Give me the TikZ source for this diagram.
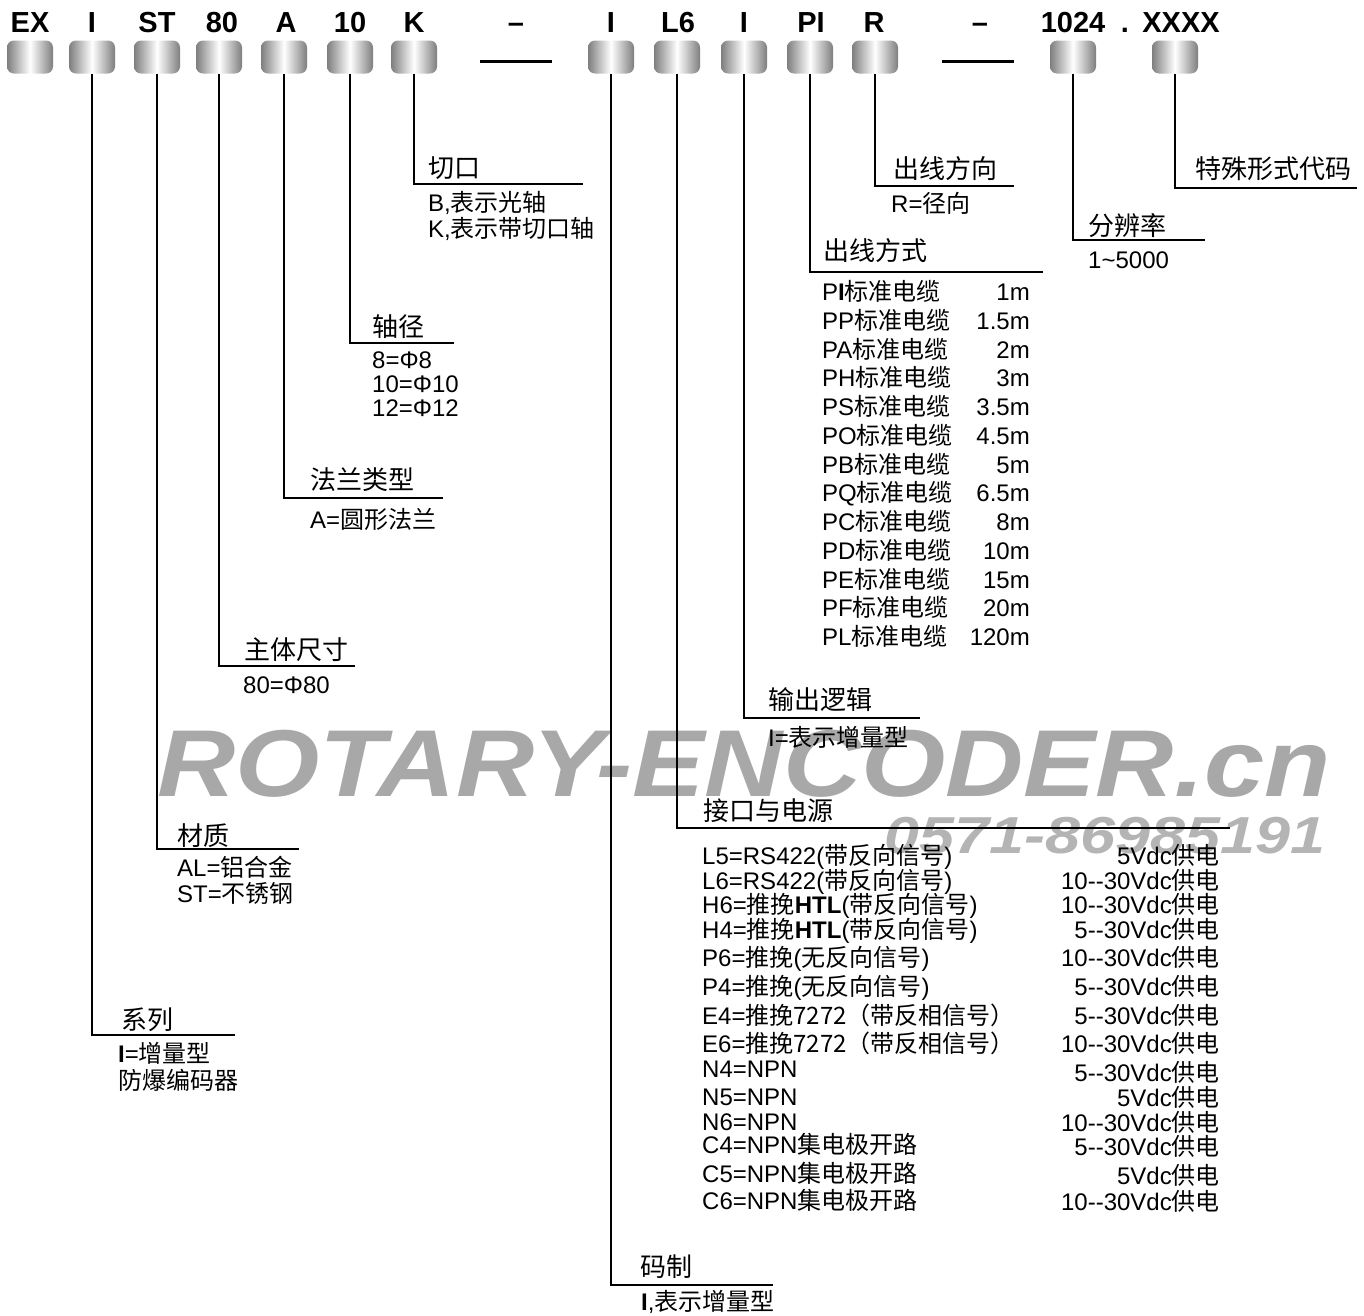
\documentclass[tikz,border=0pt]{standalone}
\usepackage{fontspec}
\usepackage{graphicx}
\setmainfont{Liberation Sans}
\newfontfamily\cjkfont{Noto Sans CJK SC}
\newcommand{\zh}[1]{{\cjkfont #1}}
\definecolor{cellgray}{HTML}{7E7E7E}
\definecolor{markgray}{HTML}{A8A8A8}
\definecolor{telgray}{HTML}{B4B4B4}

\begin{document}
\begin{tikzpicture}[
  x=1pt, y=-1pt,
  cell/.style={rounded corners=7pt, minimum width=46pt, minimum height=33pt, inner sep=0pt, left color=cellgray, right color=cellgray, middle color=white},
  code/.style={inner sep=0pt, text height=20.9pt, text depth=0pt, font=\bfseries\fontsize{29}{29}\selectfont},
  bar/.style={fill=black, inner sep=0pt, minimum width=72pt, minimum height=3pt},
  head/.style={anchor=west, inner sep=0pt, text height=19.5pt, text depth=0pt, font=\cjkfont\fontsize{26}{26}\selectfont},
  body/.style={anchor=west, inner sep=0pt, text height=18pt, text depth=0pt, font=\fontsize{24}{24}\selectfont},
  val/.style={body, anchor=east},
  lead/.style={line width=1.6pt}
]
\useasboundingbox (0,0) rectangle (1364,1315);

% watermark
\node[inner sep=0pt, text=markgray, font=\bfseries\itshape\fontsize{95}{95}\selectfont] (wmSite) at (744,764) {\scalebox{1.14}[1]{ROTARY-ENCODER.cn}};
\node[inner sep=0pt, text=telgray, font=\bfseries\itshape\fontsize{52}{52}\selectfont] (wmTel) at (1105,836) {\scalebox{1.21}[1]{0571-86985191}};

% code letters
\node[code] (tEX) at (30,22) {EX};
\node[code] (tI) at (92,22) {I};
\node[code] (tST) at (157,22) {ST};
\node[code] (t80) at (222,22) {80};
\node[code] (tA) at (286,22) {A};
\node[code] (t10) at (350,22) {10};
\node[code] (tK) at (414,22) {K};
\node[code] (tDashA) at (516,22) {–};
\node[code] (tIb) at (611,22) {I};
\node[code] (tL6) at (678,22) {L6};
\node[code] (tIc) at (744,22) {I};
\node[code] (tPI) at (811,22) {PI};
\node[code] (tR) at (874,22) {R};
\node[code] (tDashB) at (980,22) {–};
\node[code] (t1024) at (1073,22) {1024};
\node[code] (tDot) at (1125,22) {.};
\node[code] (tX) at (1181,22) {XXXX};

% code cells
\node[cell] (cEX) at (30,57) {};
\node[cell] (cI) at (92,57) {};
\node[cell] (cST) at (157,57) {};
\node[cell] (c80) at (219,57) {};
\node[cell] (cA) at (284,57) {};
\node[cell] (c10) at (350,57) {};
\node[cell] (cK) at (414,57) {};
\node[bar] (barA) at (516,61) {};
\node[cell] (cIb) at (611,57) {};
\node[cell] (cL6) at (677,57) {};
\node[cell] (cIc) at (744,57) {};
\node[cell] (cPI) at (810,57) {};
\node[cell] (cR) at (875,57) {};
\node[bar] (barB) at (978,61) {};
\node[cell] (c1024) at (1073,57) {};
\node[cell] (cX) at (1175,57) {};

% ends of the leader lines
\coordinate (eSeries) at (235,1035);
\coordinate (eMat) at (299,849);
\coordinate (eSize) at (355,666);
\coordinate (eFlange) at (443,498);
\coordinate (eShaft) at (454,343);
\coordinate (eCut) at (583,184);
\coordinate (eCode) at (773,1285);
\coordinate (ePort) at (1230,828);
\coordinate (eLogic) at (920,718);
\coordinate (eCable) at (1043,272);
\coordinate (eDir) at (1014,186);
\coordinate (eRes) at (1205,240);
\coordinate (eSpec) at (1357,188);

\draw[lead] (cI.south) |- (eSeries);
\draw[lead] (cST.south) |- (eMat);
\draw[lead] (c80.south) |- (eSize);
\draw[lead] (cA.south) |- (eFlange);
\draw[lead] (c10.south) |- (eShaft);
\draw[lead] (cK.south) |- (eCut);
\draw[lead] (cIb.south) |- (eCode);
\draw[lead] (cL6.south) |- (ePort);
\draw[lead] (cIc.south) |- (eLogic);
\draw[lead] (cPI.south) |- (eCable);
\draw[lead] (cR.south) |- (eDir);
\draw[lead] (c1024.south) |- (eRes);
\draw[lead] (cX.south) |- (eSpec);

% series
\node[head] (hSeries) at (121,1020) {系列};
\node[body] (bSeriesA) at (118,1053) {\textbf{I}=\zh{增量型}};
\node[body] (bSeriesB) at (118,1080) {\zh{防爆编码器}};
% material
\node[head] (hMat) at (177,836) {材质};
\node[body] (bMatA) at (177,867) {AL=\zh{铝合金}};
\node[body] (bMatB) at (177,893) {ST=\zh{不锈钢}};
% body size
\node[head] (hSize) at (244,650) {主体尺寸};
\node[body] (bSize) at (243,684) {80=Φ80};
% flange
\node[head] (hFlange) at (310,480) {法兰类型};
\node[body] (bFlange) at (310,519) {A=\zh{圆形法兰}};
% shaft
\node[head] (hShaft) at (372,327) {轴径};
\node[body] (bShaftA) at (372,359) {8=Φ8};
\node[body] (bShaftB) at (372,383) {10=Φ10};
\node[body] (bShaftC) at (372,407) {12=Φ12};
% cut
\node[head] (hCut) at (428,168) {切口};
\node[body] (bCutA) at (428,202) {B,\zh{表示光轴}};
\node[body] (bCutB) at (428,228) {K,\zh{表示带切口轴}};
% code type
\node[head] (hCode) at (640,1267) {码制};
\node[body] (bCode) at (641,1301) {\textbf{I},\zh{表示增量型}};
% output logic
\node[head] (hLogic) at (768,700) {输出逻辑};
\node[body] (bLogic) at (768,737) {I=\zh{表示增量型}};
% direction
\node[head] (hDir) at (893,169) {出线方向};
\node[body] (bDir) at (891,203) {R=\zh{径向}};
% resolution
\node[head] (hRes) at (1088,226) {分辨率};
\node[body] (bRes) at (1088,259) {1\textasciitilde5000};
% special
\node[head] (hSpec) at (1195,169) {特殊形式代码};

% cable
\node[head] (hCable) at (823,251) {出线方式};
\node[body] (pi1) at (822,291) {P\textbf{I}\zh{标准电缆}};
\node[body] (pi2) at (822,320) {PP\zh{标准电缆}};
\node[body] (pi3) at (822,349) {PA\zh{标准电缆}};
\node[body] (pi4) at (822,377) {PH\zh{标准电缆}};
\node[body] (pi5) at (822,406) {PS\zh{标准电缆}};
\node[body] (pi6) at (822,435) {PO\zh{标准电缆}};
\node[body] (pi7) at (822,464) {PB\zh{标准电缆}};
\node[body] (pi8) at (822,492) {PQ\zh{标准电缆}};
\node[body] (pi9) at (822,521) {PC\zh{标准电缆}};
\node[body] (pi10) at (822,550) {PD\zh{标准电缆}};
\node[body] (pi11) at (822,579) {PE\zh{标准电缆}};
\node[body] (pi12) at (822,607) {PF\zh{标准电缆}};
\node[body] (pi13) at (822,636) {PL\zh{标准电缆}};
\node[val] (len1) at (1030,291) {1m};
\node[val] (len2) at (1030,320) {1.5m};
\node[val] (len3) at (1030,349) {2m};
\node[val] (len4) at (1030,377) {3m};
\node[val] (len5) at (1030,406) {3.5m};
\node[val] (len6) at (1030,435) {4.5m};
\node[val] (len7) at (1030,464) {5m};
\node[val] (len8) at (1030,492) {6.5m};
\node[val] (len9) at (1030,521) {8m};
\node[val] (len10) at (1030,550) {10m};
\node[val] (len11) at (1030,579) {15m};
\node[val] (len12) at (1030,607) {20m};
\node[val] (len13) at (1030,636) {120m};

% interface and supply
\node[head] (hPort) at (703,811) {接口与电源};
\node[body] (if1) at (702,855) {L5=RS422(\zh{带反向信号})};
\node[body] (if2) at (702,880) {L6=RS422(\zh{带反向信号})};
\node[body] (if3) at (702,904) {H6=\zh{推挽}\textbf{HTL}(\zh{带反向信号})};
\node[body] (if4) at (702,929) {H4=\zh{推挽}\textbf{HTL}(\zh{带反向信号})};
\node[body] (if5) at (702,957) {P6=\zh{推挽}(\zh{无反向信号})};
\node[body] (if6) at (702,986) {P4=\zh{推挽}(\zh{无反向信号})};
\node[body] (if7) at (702,1015) {E4=\zh{推挽7272（带反相信号）}};
\node[body] (if8) at (702,1043) {E6=\zh{推挽7272（带反相信号）}};
\node[body] (if9) at (702,1068) {N4=NPN};
\node[body] (if10) at (702,1096) {N5=NPN};
\node[body] (if11) at (702,1121) {N6=NPN};
\node[body] (if12) at (702,1144) {C4=NPN\zh{集电极开路}};
\node[body] (if13) at (702,1173) {C5=NPN\zh{集电极开路}};
\node[body] (if14) at (702,1200) {C6=NPN\zh{集电极开路}};
\node[val] (pw1) at (1220,855) {5Vdc\zh{供电}};
\node[val] (pw2) at (1220,880) {10-{}-30Vdc\zh{供电}};
\node[val] (pw3) at (1220,904) {10-{}-30Vdc\zh{供电}};
\node[val] (pw4) at (1220,929) {5-{}-30Vdc\zh{供电}};
\node[val] (pw5) at (1220,957) {10-{}-30Vdc\zh{供电}};
\node[val] (pw6) at (1220,986) {5-{}-30Vdc\zh{供电}};
\node[val] (pw7) at (1220,1015) {5-{}-30Vdc\zh{供电}};
\node[val] (pw8) at (1220,1043) {10-{}-30Vdc\zh{供电}};
\node[val] (pw9) at (1220,1072) {5-{}-30Vdc\zh{供电}};
\node[val] (pw10) at (1220,1097) {5Vdc\zh{供电}};
\node[val] (pw11) at (1220,1122) {10-{}-30Vdc\zh{供电}};
\node[val] (pw12) at (1220,1146) {5-{}-30Vdc\zh{供电}};
\node[val] (pw13) at (1220,1175) {5Vdc\zh{供电}};
\node[val] (pw14) at (1220,1201) {10-{}-30Vdc\zh{供电}};
\end{tikzpicture}
\end{document}
